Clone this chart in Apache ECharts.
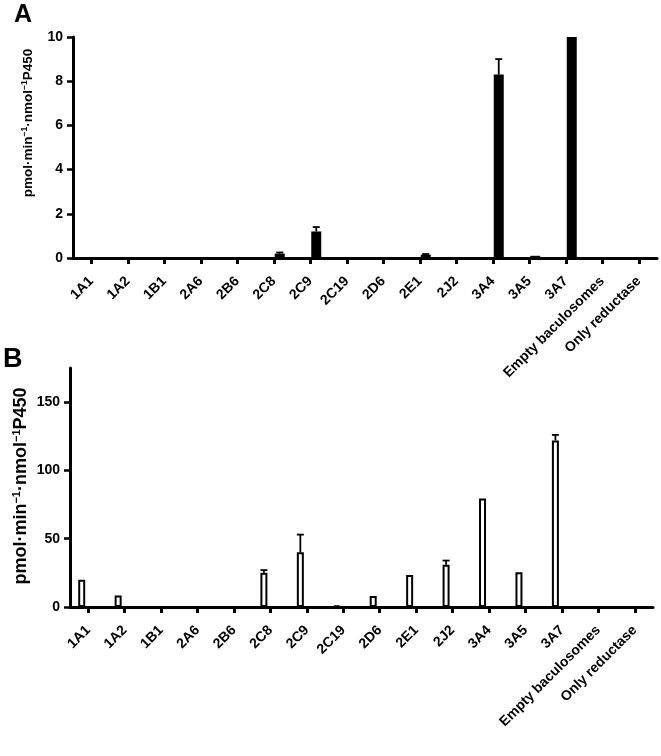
<!DOCTYPE html>
<html>
<head>
<meta charset="utf-8">
<script src="https://cdn.jsdelivr.net/npm/echarts@6/dist/echarts.min.js"></script>
<style>
html,body{margin:0;padding:0;background:#fff;}
#chart{width:661px;height:756px;}
</style>
</head>
<body>
<div id="chart"></div>
<script>
const categories = ['1A1','1A2','1B1','2A6','2B6','2C8','2C9','2C19','2D6','2E1','2J2','3A4','3A5','3A7','Empty baculosomes','Only reductase'];
const activityA = [0,0,0,0,0,0.2,1.2,0,0,0.15,0,8.3,0.1,10,0,0];
const errorA    = [0,0,0,0,0,0.05,0.2,0,0,0.03,0,0.7,0,0,0,0];
const activityB = [20,8.5,0,0,0,25,40,1,8,23.5,31,79.5,25.5,122,0,0];
const errorB    = [0,0,0,0,0,2,13,0,0,0,3,0,0,4,0,0];
const yTicksA = [0,2,4,6,8,10];
const yTicksB = [0,50,100,150];
const yTitle = '{m|pmol·min}{s|−1}{m|·nmol}{s|−1}{m|P450}';

const FONT = '"Liberation Sans", Arial, Helvetica, sans-serif';
const chart = echarts.init(document.getElementById('chart'), null, {renderer:'canvas'});

function nz(arr){ return arr.map(v => v === 0 ? '-' : v); }

function errSeries(gridIdx, vals, errs, off){
  return {
    type:'custom', xAxisIndex:gridIdx, yAxisIndex:gridIdx, z:5,
    data: vals.map((v,i)=>[i, v, errs[i]]),
    renderItem: function(params, api){
      const i = api.value(0), v = api.value(1), e = api.value(2);
      if (!e) return null;
      const b = api.coord([i, v]);
      const t = api.coord([i, v + e]);
      const x = b[0] + off;
      return {type:'group', children:[
        {type:'line', shape:{x1:x,y1:b[1],x2:x,y2:t[1]}, style:{stroke:'#000',lineWidth:1.8}},
        {type:'line', shape:{x1:x-3.5,y1:t[1],x2:x+3.5,y2:t[1]}, style:{stroke:'#000',lineWidth:1.8}}
      ]};
    }
  };
}

function xAx(gridIdx){
  return {
    type:'category', gridIndex:gridIdx, data:categories, boundaryGap:true,
    axisLine:{show:true, lineStyle:{color:'#000', width:3}},
    axisTick:{show:true, alignWithLabel:true, length:6, lineStyle:{color:'#000', width:3}},
    axisLabel:{interval:0, rotate:45, color:'#000', fontFamily:FONT, fontWeight:'bold', fontSize:14, margin:21},
    splitLine:{show:false}
  };
}
function yAx(gridIdx, max, interval, ticks){
  return {
    type:'value', gridIndex:gridIdx, min:0, max:max, interval:interval,
    axisLine:{show:true, lineStyle:{color:'#000', width:3}},
    axisTick:{show:true, length:6, customValues:ticks, lineStyle:{color:'#000', width:2.5}},
    axisLabel:{color:'#000', fontFamily:FONT, fontWeight:'bold', fontSize:14, margin:10, customValues:ticks},
    splitLine:{show:false}
  };
}

const option = {
  backgroundColor:'#fff',
  animation:false,
  grid:[
    {left:73, right:4, top:37, height:221},
    {left:70, right:8, top:368, height:239}
  ],
  xAxis:[xAx(0), xAx(1)],
  yAxis:[yAx(0, 10, 2, yTicksA), yAx(1, 175, 25, yTicksB)],
  graphic:[
    {type:'text', left:14, top:3, style:{text:'A', font:'bold 25px '+FONT, fill:'#000'}},
    {type:'text', left:3, top:346, style:{text:'B', font:'bold 27px '+FONT, fill:'#000'}},
    {type:'text', x:28, y:123, rotation:Math.PI/2,
      style:{text:yTitle, fill:'#000', align:'center', verticalAlign:'middle',
        rich:{m:{fontFamily:FONT, fontWeight:'bold', fontSize:13.5, fill:'#000'},
              s:{fontFamily:FONT, fontWeight:'bold', fontSize:8.5, fill:'#000', verticalAlign:'top', padding:[0,0,6,0]}}}},
    {type:'text', x:21, y:486, rotation:Math.PI/2,
      style:{text:yTitle, fill:'#000', align:'center', verticalAlign:'middle',
        rich:{m:{fontFamily:FONT, fontWeight:'bold', fontSize:18, fill:'#000'},
              s:{fontFamily:FONT, fontWeight:'bold', fontSize:11, fill:'#000', verticalAlign:'top', padding:[0,0,8,0]}}}}
  ],
  series:[
    {type:'bar', xAxisIndex:0, yAxisIndex:0, data:categories.map(()=>'-'), barWidth:10, barGap:'20%', itemStyle:{color:'transparent'}},
    {type:'bar', xAxisIndex:0, yAxisIndex:0, data:nz(activityA), barWidth:10, barGap:'20%', itemStyle:{color:'#000'}},
    errSeries(0, activityA, errorA, 6),
    {type:'bar', xAxisIndex:1, yAxisIndex:1, data:nz(activityB), barWidth:7, barGap:'86%', itemStyle:{color:'#fff', borderColor:'#000', borderWidth:2}},
    {type:'bar', xAxisIndex:1, yAxisIndex:1, data:categories.map(()=>'-'), barWidth:7, barGap:'86%', itemStyle:{color:'transparent'}},
    errSeries(1, activityB, errorB, -6.5)
  ]
};
chart.setOption(option);
</script>
</body>
</html>
